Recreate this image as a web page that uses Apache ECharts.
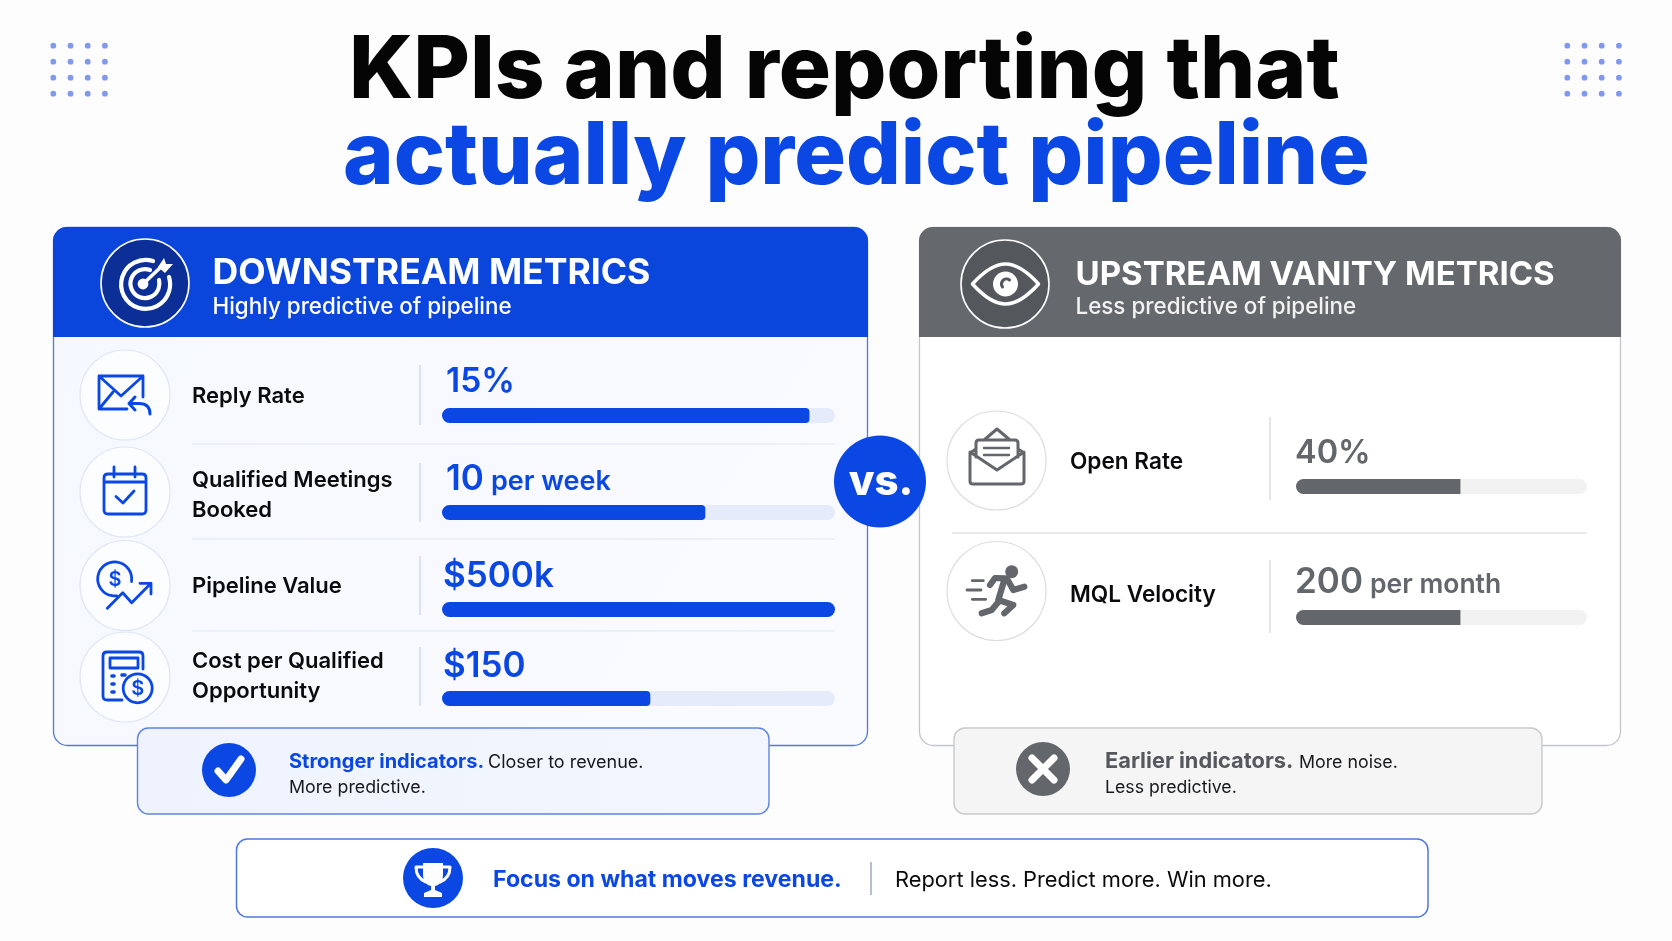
<!DOCTYPE html>
<html lang="en">
<head>
<meta charset="UTF-8">
<title>KPIs and reporting</title>
<script src="https://cdn.jsdelivr.net/npm/echarts@6/dist/echarts.min.js"></script>
<style>html,body{margin:0;padding:0;background:#fdfdfd}</style>
</head>
<body>
<div id="main" style="width:1672px;height:941px"></div>
<script>
// data
var downNames = ['Reply Rate', 'Qualified Meetings\nBooked', 'Pipeline Value', 'Cost per Qualified\nOpportunity'];
var downValues = ['15%', '10', '$500k', '$150'];
var downUnits = ['', 'per week', '', ''];
var downBars = [93.5, 67, 100, 53];
var upNames = ['Open Rate', 'MQL Velocity'];
var upValues = ['40%', '200'];
var upUnits = ['', 'per month'];
var upBars = [56.5, 56.5];

var BLUE = '#0a47e3', HEAD = '#0b46dc', GRAY = '#63676b', INK = '#0b0b0d';
var FONT = 'Inter';
var chart = echarts.init(document.getElementById('main'));
var els = [];

function txt(x, base, s, size, weight, fill, align) {
    els.push({type: 'text', silent: true, style: {
        text: s, x: x, y: base - size * 0.29, fontFamily: FONT, fontSize: size, fontWeight: weight,
        fill: fill, align: align || 'left', verticalAlign: 'middle'
    }});
}
function rect(x, y, w, h, r, fill, stroke, lw) {
    els.push({type: 'rect', silent: true, shape: {x: x, y: y, width: w, height: h, r: r},
        style: {fill: fill, stroke: stroke || 'none', lineWidth: lw || 0}});
}
function circle(cx, cy, r, fill, stroke, lw) {
    els.push({type: 'circle', silent: true, shape: {cx: cx, cy: cy, r: r},
        style: {fill: fill, stroke: stroke || 'none', lineWidth: lw || 0}});
}
function line(x1, y1, x2, y2, color, lw) {
    els.push({type: 'line', silent: true, shape: {x1: x1, y1: y1, x2: x2, y2: y2},
        style: {stroke: color, lineWidth: lw || 1}});
}
var iconCount = 0;
function icon(cx, cy, d, color, lw, filled) {
    var name = 'icon' + (iconCount++);
    echarts.graphic.registerShape(name, echarts.graphic.extendPath(d));
    els.push({type: name, silent: true, x: cx, y: cy, style: {
        fill: filled ? color : 'none', stroke: filled ? 'none' : color, lineWidth: lw || 0,
        lineCap: 'round', lineJoin: 'round'
    }});
}
function vGrad(c0, c1) {
    return new echarts.graphic.LinearGradient(0, 0, 1, 1, [{offset: 0, color: c0}, {offset: 1, color: c1}]);
}

// corner dots
[53.3, 1567.3].forEach(function (x0) {
    for (var i = 0; i < 4; i++) for (var j = 0; j < 4; j++) {
        circle(x0 + i * 17.2, 45.7 + j * 16, 2.9, '#7f99ef');
    }
});

// title
txt(349, 97, 'KPIs and reporting that', 87, 800, '#050505');
txt(343, 183, 'actually predict pipeline', 86.2, 800, BLUE);

// left card
rect(53.5, 227.5, 814, 518, 14, vGrad('#f5f8fe', '#fafbff'), '#5079e2', 1.3);
rect(53, 227, 815, 110, [14, 14, 0, 0], HEAD);
circle(145, 283, 44, '#0b2f96', '#ffffff', 1.6);
txt(212.5, 283.5, 'DOWNSTREAM METRICS', 35.6, 700, '#ffffff');
txt(212.5, 314, 'Highly predictive of pipeline', 22.4, 500, '#ffffff');

// right card
rect(919.5, 227.5, 701, 518, 14, '#ffffff', '#c4c6c9', 1.3);
rect(919, 227, 702, 110, [14, 14, 0, 0], '#65686c');
circle(1005, 284, 44, '#54575b', '#ffffff', 1.6);
txt(1075.5, 285, 'UPSTREAM VANITY METRICS', 33, 700, '#ffffff');
txt(1075.5, 314, 'Less predictive of pipeline', 22.4, 500, '#f2f2f2');

// left rows
var downCy = [395, 492, 585.5, 677];
var downDiv = [[365, 425], [463, 522], [556, 615], [647, 706]];
var downLabelBase = [[403], [487, 517], [593], [668, 698]];
var downValueBase = [392, 490, 587, 677];
var downValueX = [446, 446, 443, 443];
var downValueSize = [33.5, 35, 35, 35];
var downBarTop = [408, 505, 602, 691];
[444, 539, 631].forEach(function (y) { line(192, y, 835, y, '#dfe5f4', 1.2); });
downNames.forEach(function (n, i) {
    circle(125, downCy[i], 45, '#fcfdff', '#e0e6f6', 1.2);
    n.split('\n').forEach(function (t, k) { txt(192, downLabelBase[i][k], t, 22, 600, INK); });
    line(420, downDiv[i][0], 420, downDiv[i][1], '#c5d2f0', 1.2);
    txt(downValueX[i], downValueBase[i], downValues[i], downValueSize[i], 600, BLUE);
    if (downUnits[i]) txt(491, downValueBase[i], downUnits[i], 27, 600, BLUE);
});

// right rows
var upCy = [460.5, 591];
var upDiv = [[417, 500], [560, 633]];
var upLabelBase = [469, 602];
var upValueBase = [463, 593];
var upValueSize = [32.5, 35];
var upBarTop = [479, 610];
line(952, 533, 1587, 533, '#e4e5e7', 1.4);
upNames.forEach(function (n, i) {
    circle(996.5, upCy[i], 49.5, '#ffffff', '#dcdddf', 1.2);
    txt(1070, upLabelBase[i], n, 22.6, 600, INK);
    line(1270, upDiv[i][0], 1270, upDiv[i][1], '#d2d3d6', 1.2);
    txt(1295, upValueBase[i], upValues[i], upValueSize[i], 600, GRAY);
    if (upUnits[i]) txt(1370, upValueBase[i], upUnits[i], 26.5, 600, GRAY);
});

// vs badge
circle(880, 481.5, 46, BLUE);
txt(881, 495, 'vs.', 42, 800, '#ffffff', 'center');

// callouts
rect(137.5, 728, 631.5, 86, 11, vGrad('#eef3fd', '#f3f6fe'), '#5e84e3', 1.4);
circle(229, 770, 27, BLUE);
txt(289, 768, 'Stronger indicators.', 20, 700, BLUE);
txt(488, 768, 'Closer to revenue.', 18, 400, '#17181b');
txt(289, 793, 'More predictive.', 17.8, 400, '#17181b');
rect(954, 728, 588, 86, 11, '#f5f5f6', '#c9cacc', 1.4);
circle(1043, 769, 27, GRAY);
txt(1105, 768, 'Earlier indicators.', 21.8, 700, '#55585c');
txt(1299, 768, 'More noise.', 17.8, 400, '#17181b');
txt(1105, 793, 'Less predictive.', 17.7, 400, '#17181b');

// bottom banner
rect(236.5, 839, 1191.5, 78, 11, '#ffffff', '#4f78e2', 1.5);
circle(433, 878, 30, BLUE);
txt(493, 887, 'Focus on what moves revenue.', 23.1, 700, BLUE);
line(871, 862, 871, 895, '#8f9bb5', 1.3);
txt(895, 887, 'Report less. Predict more. Win more.', 21.8, 400, INK);

// icons
icon(145, 284, 'M8,-23 A24.5,24.5 0 1 0 24,-7 M5,-14 A14.5,14.5 0 1 0 14,-4', '#ffffff', 4.2);
circle(143, 284, 5.4, '#ffffff');
icon(145, 284, 'M-2,0 L18,-19', '#ffffff', 3.6);
icon(145, 284, 'M13,-17 L19,-26 L21,-20 L28,-20 L20,-11 Z', '#ffffff', 0, true);
icon(125, 395, 'M2,14 L-26,14 L-26,-19 L18,-19 L18,2 M-26,-19 L-4,1 L18,-19 M-26,14 L-12,-3', BLUE, 2.8);
icon(125, 395, 'M10,2 L4,8.5 L10,15 M4,8.5 L14,8.5 Q25,8.5 25,19', BLUE, 3);
icon(125, 492, 'M-17,-18 L17,-18 Q21,-18 21,-14 L21,18 Q21,22 17,22 L-17,22 Q-21,22 -21,18 L-21,-14 Q-21,-18 -17,-18 Z M-21,-10 L21,-10 M-11,-25 L-11,-15 M10,-25 L10,-15 M-9,4.5 L-2,11 L9,-1', BLUE, 2.8);
icon(125, 585.5, 'M6.5,-4 A17,17 0 1 0 -8.3,10.3 M-17.7,22.8 L-2.3,7.2 L6.7,17.2 L26,-2.2 M15,-2.2 L26,-2.2 L26,8.5', BLUE, 2.8);
txt(115, 586, '$', 20, 600, BLUE, 'center');
icon(125, 677, 'M-3,23 L-18,23 Q-22,23 -22,19 L-22,-21 Q-22,-25 -18,-25 L14,-25 Q18,-25 18,-21 L18,-8 M-15,-19 L13,-19 L13,-9 L-15,-9 Z', BLUE, 2.8);
icon(125, 677, 'M-13,-1 L-11,-1 M-13,7 L-11,7 M-13,15 L-11,15 M-3,-2 L0,-2', BLUE, 3.6);
circle(137.7, 688.3, 14.5, '#fcfdff', BLUE, 2.8);
txt(137.7, 695, '$', 20, 600, BLUE, 'center');
icon(1005.5, 284, 'M-33,0 Q-15,-20 0,-20 Q15,-20 33,0 Q15,20 0,20 Q-15,20 -33,0 Z', '#ffffff', 3.5);
circle(1005.5, 284, 12.5, '#ffffff');
icon(1005.5, 284, 'M4,-4 A5,5 0 0 0 -3,3', '#54575b', 3);
icon(997, 461, 'M-21,-12 L-27,-8 L-27,20 Q-27,23 -24,23 L24,23 Q27,23 27,20 L27,-8 L21,-12 M-27,-9 L0,9 L27,-9 M-21,-4 L-21,-18 Q-21,-21 -18,-21 L18,-21 Q21,-21 21,-18 L21,-4 M-13,-21 L0,-32 L13,-21', GRAY, 3);
icon(997, 461, 'M-13,-13 L12,-13 M-13,-6 L12,-6', GRAY, 2.4);
circle(1011.7, 571.7, 6.5, GRAY);
icon(996, 591, 'M-6,-6 L-1,-13 L10.7,-12.7 L17.3,-1 L28.3,-4.3 M8.3,-11 L2.3,9 L17.3,14 L8.3,22.3 M2.3,11 L-4.3,19 L-14.3,22.3', GRAY, 6.2);
icon(996, 591, 'M-23.7,-10.3 L-12.7,-10.3 M-29,-1 L-15,-1 M-23.7,8.3 L-10.3,8.3', GRAY, 2.8);
icon(229, 770, 'M-11,1 L-3,10 L12,-11', '#ffffff', 7);
icon(1043, 769, 'M-11,-11 L11,11 M11,-11 L-11,11', '#ffffff', 7);
icon(433, 878, 'M-10,-15 L10,-15 L10,-3 Q10,6 2,8 L2,12 L9,15 L9,19 L-9,19 L-9,15 L-2,12 L-2,8 Q-10,6 -10,-3 Z', '#ffffff', 0, true);
icon(433, 878, 'M-10,-11 L-17,-11 Q-17,0 -7,4 M10,-11 L17,-11 Q17,0 7,4', '#ffffff', 3);

// bars, one small grid for each metric
var grids = [], xAxes = [], yAxes = [], series = [];
function addBar(left, width, top, value, color, track, radius) {
    var k = grids.length;
    grids.push({left: left, width: width, top: top, height: 15});
    xAxes.push({type: 'value', gridIndex: k, min: 0, max: 100, show: false});
    yAxes.push({type: 'category', gridIndex: k, data: [''], show: false});
    series.push({
        type: 'bar', xAxisIndex: k, yAxisIndex: k, data: [value], barWidth: 15, silent: true,
        showBackground: true, backgroundStyle: {color: track, borderRadius: 7.5},
        itemStyle: {color: color, borderRadius: radius}
    });
}
downBars.forEach(function (v, i) {
    addBar(442, 393, downBarTop[i], v, BLUE, '#e5ebfa', v === 100 ? 7.5 : [7.5, 4, 4, 7.5]);
});
upBars.forEach(function (v, i) {
    addBar(1296, 291, upBarTop[i], v, GRAY, '#f2f2f3', [7.5, 0, 0, 7.5]);
});

chart.setOption({
    animation: false,
    backgroundColor: '#fdfdfd',
    tooltip: {show: false},
    graphic: {elements: els},
    grid: grids,
    xAxis: xAxes,
    yAxis: yAxes,
    series: series
});
</script>
</body>
</html>
